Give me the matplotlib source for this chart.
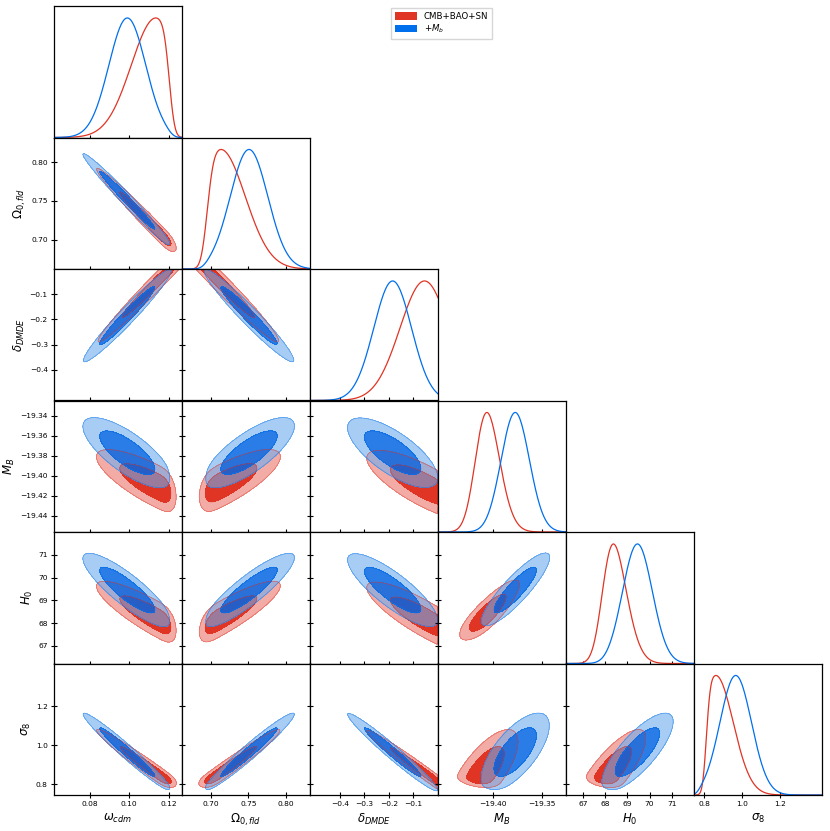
import math
import numpy as np
import matplotlib
matplotlib.use("Agg")
import matplotlib.pyplot as plt
from matplotlib.patches import Patch
from matplotlib.ticker import FuncFormatter

# parameters of the triangle plot
labels = [r"$\omega_{cdm}$", r"$\Omega_{0,fld}$", r"$\delta_{DMDE}$", r"$M_B$", r"$H_0$", r"$\sigma_8$"]
limits = [(0.062, 0.1266), (0.662, 0.832), (-0.522, 0.0), (-19.456, -19.325), (66.23, 72.0), (0.746, 1.418)]
xticks = [[0.08, 0.10, 0.12], [0.70, 0.75, 0.80], [-0.4, -0.3, -0.2, -0.1],
          [-19.40, -19.35], [67, 68, 69, 70, 71], [0.8, 1.0, 1.2]]
yticks = [[], [0.70, 0.75, 0.80], [-0.4, -0.3, -0.2, -0.1],
          [-19.44, -19.42, -19.40, -19.38, -19.36, -19.34], [67, 68, 69, 70, 71], [0.8, 1.0, 1.2]]
tick_fmt = ["%.2f", "%.2f", "%.1f", "%.2f", "%d", "%.1f"]
delta_index = 2
delta_upper = 0.0  # prior bound on delta_DMDE

# CMB+BAO+SN  (gaussian before the delta prior cut)
red_mean = [0.1135, 0.713, -0.055, -19.410, 68.20, 0.860]
red_sigma = [0.0125, 0.033, 0.100, 0.0150, 0.68, 0.092]
red_corr = [
    [1.000, -0.988, 0.985, -0.800, -0.870, -0.980],
    [-0.988, 1.000, -0.980, 0.800, 0.880, 0.978],
    [0.985, -0.980, 1.000, -0.780, -0.850, -0.985],
    [-0.800, 0.800, -0.780, 1.000, 0.890, 0.720],
    [-0.870, 0.880, -0.850, 0.890, 1.000, 0.800],
    [-0.980, 0.978, -0.985, 0.720, 0.800, 1.000],
]

# +M_b
blue_mean = [0.0990, 0.751, -0.185, -19.377, 69.45, 0.965]
blue_sigma = [0.0093, 0.025, 0.077, 0.0145, 0.67, 0.083]
blue_corr = [
    [1.000, -0.985, 0.970, -0.750, -0.860, -0.975],
    [-0.985, 1.000, -0.965, 0.760, 0.880, 0.970],
    [0.970, -0.965, 1.000, -0.720, -0.830, -0.975],
    [-0.750, 0.760, -0.720, 1.000, 0.880, 0.680],
    [-0.860, 0.880, -0.830, 0.880, 1.000, 0.780],
    [-0.975, 0.970, -0.975, 0.680, 0.780, 1.000],
]

plt.rcParams["font.family"] = ["DejaVu Sans"]
plt.rcParams["mathtext.fontset"] = "dejavusans"

_erf = np.vectorize(math.erf)


def phi(z):
    return 0.5 * (1.0 + _erf(z / math.sqrt(2.0)))


def make_cov(sigma, corr):
    r = np.array(corr, dtype=float)
    w, v = np.linalg.eigh(r)
    w = np.clip(w, 2e-4, None)
    r = v @ np.diag(w) @ v.T
    d = np.sqrt(np.diag(r))
    r = r / np.outer(d, d)
    s = np.array(sigma)
    return r * np.outer(s, s)


def density_1d(mean, cov, i, x):
    m = np.array(mean)
    p = np.exp(-0.5 * (x - m[i]) ** 2 / cov[i, i])
    if i == delta_index:
        p = p * (x <= delta_upper)
    else:
        k = delta_index
        mu = m[k] + cov[k, i] / cov[i, i] * (x - m[i])
        var = cov[k, k] - cov[k, i] ** 2 / cov[i, i]
        p = p * phi((delta_upper - mu) / np.sqrt(var))
    return p / p.max()


def density_2d(mean, cov, i, j, n=260):
    # i: y parameter, j: x parameter
    m = np.array(mean)
    sd = np.sqrt(np.diag(cov))
    gx = np.linspace(min(limits[j][0], m[j] - 5 * sd[j]), max(limits[j][1], m[j] + 5 * sd[j]), n)
    gy = np.linspace(min(limits[i][0], m[i] - 5 * sd[i]), max(limits[i][1], m[i] + 5 * sd[i]), n)
    X, Y = np.meshgrid(gx, gy)
    idx = [j, i]
    S = cov[np.ix_(idx, idx)]
    Si = np.linalg.inv(S)
    dx = X - m[j]
    dy = Y - m[i]
    q = Si[0, 0] * dx * dx + 2 * Si[0, 1] * dx * dy + Si[1, 1] * dy * dy
    p = np.exp(-0.5 * q)
    k = delta_index
    if k in idx:
        val = X if j == k else Y
        p = p * (val <= delta_upper)
    else:
        s_k = cov[k, idx]
        b = s_k @ Si
        mu = m[k] + b[0] * dx + b[1] * dy
        var = cov[k, k] - b @ s_k
        p = p * phi((delta_upper - mu) / np.sqrt(var))
    flat = np.sort(p.ravel())[::-1]
    cum = np.cumsum(flat) / flat.sum()
    l68 = flat[np.searchsorted(cum, 0.68)]
    l95 = flat[np.searchsorted(cum, 0.95)]
    return X, Y, p, l95, l68


def fmt(f):
    return FuncFormatter(lambda v, pos: (f % v).replace("-", "\u2212"))


red_cov = make_cov(red_sigma, red_corr)
blue_cov = make_cov(blue_sigma, blue_corr)

series = [
    dict(mean=red_mean, cov=red_cov, line="#E03424", outer="#F3ABA6", outer_alpha=1.0,
         inner="#E03424", inner_alpha=1.0),
    dict(mean=blue_mean, cov=blue_cov, line="#006FED", outer="#6EACEE", outer_alpha=0.6,
         inner="#0566E2", inner_alpha=0.85),
]

fig = plt.figure(figsize=(8.30, 8.31), dpi=100)
n = 6
left, top = 54 / 830, 1 - 6 / 831
pw, ph = 128 / 830, 131.5 / 831

for i in range(n):
    for j in range(i + 1):
        ax = fig.add_axes([left + j * pw, top - (i + 1) * ph, pw, ph])
        ax.set_xlim(limits[j])
        if i == j:
            for s in series:
                x = np.linspace(limits[i][0], limits[i][1], 400)
                ax.plot(x, density_1d(s["mean"], s["cov"], i, x), color=s["line"], lw=0.9)
            ax.set_ylim(0, 1.10)
            ax.set_yticks([])
        else:
            for s in series:
                X, Y, P, l95, l68 = density_2d(s["mean"], s["cov"], i, j)
                ax.contourf(X, Y, P, levels=[l95, l68], colors=[s["outer"]], alpha=s["outer_alpha"])
                ax.contourf(X, Y, P, levels=[l68, P.max() * 1.01], colors=[s["inner"]], alpha=s["inner_alpha"])
                ax.contour(X, Y, P, levels=[l95, l68], colors=[s["line"]], linewidths=0.5,
                           alpha=0.6)
            ax.set_ylim(limits[i])
            ax.set_yticks(yticks[i])
            ax.yaxis.set_major_formatter(fmt(tick_fmt[i]))
        ax.set_xticks(xticks[j])
        ax.xaxis.set_major_formatter(fmt(tick_fmt[j]))
        ax.tick_params(direction="inout", length=5, width=0.8, labelsize=5.4, pad=2)
        for sp in ax.spines.values():
            sp.set_linewidth(0.9)
        if i == n - 1:
            ax.set_xlabel(labels[j], fontsize=8.5, labelpad=3)
        else:
            ax.tick_params(labelbottom=False)
        if j == 0 and i > 0:
            ax.set_ylabel(labels[i], fontsize=8.5, labelpad=2)
        else:
            ax.tick_params(labelleft=False)

handles = [Patch(facecolor="#E03424", edgecolor="none"), Patch(facecolor="#006FED", edgecolor="none")]
fig.legend(handles, ["CMB+BAO+SN", r"$+M_b$"], loc="upper left", bbox_to_anchor=(0.466, 0.995),
           fontsize=6.2, frameon=True, handlelength=2.6, handleheight=0.9, borderpad=0.4,
           labelspacing=0.2, fancybox=False, edgecolor="#cccccc")

fig.savefig("out.png", dpi=100)
